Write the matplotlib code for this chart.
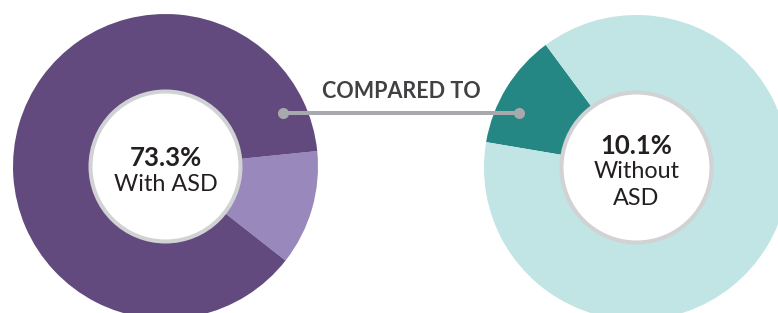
import matplotlib.pyplot as plt
from matplotlib.patches import Circle

# --- Data ---
left_labels = ["Other", "With ASD"]
left_values = [12.2, 87.8]
left_colors = ["#9888bc", "#624a7e"]
left_pct = "73.3%"
left_text = "With ASD"

right_labels = ["Other", "Without ASD"]
right_values = [12.2, 87.8]
right_colors = ["#248784", "#c1e4e4"]
right_pct = "10.1%"
right_text = "Without\nASD"

link_text = "COMPARED TO"

# --- Figure in pixel coordinates ---
W, H = 778, 313
fig = plt.figure(figsize=(W / 100, H / 100), dpi=100)
ax = fig.add_axes([0, 0, 1, 1])

FONT = "Lato"
RING = "#d1d2d4"
TEXT = "#231f20"


def donut(center, values, colors, start, pct, label):
    ax.pie(values, colors=colors, radius=152.5, center=center,
           startangle=start, counterclock=True,
           wedgeprops=dict(linewidth=0))
    ax.add_patch(Circle(center, 75, facecolor="white", edgecolor=RING,
                        linewidth=2.9, zorder=5))
    lines = label.split("\n")
    n = len(lines) + 1
    step = 26.5
    top = center[1] + step * (n - 1) / 2 - 4.5
    ax.text(center[0], top, pct, ha="center", va="center", fontsize=18.5,
            fontweight="bold", family=FONT, color=TEXT, zorder=6)
    for i, ln in enumerate(lines):
        ax.text(center[0], top - step * (i + 1), ln, ha="center", va="center",
                fontsize=16.8, family=FONT, color=TEXT, zorder=6)


left_c = (165.5, H - 166.5)
right_c = (636.5, H - 167.5)

donut(left_c, left_values, left_colors, -38.1, left_pct, left_text)
donut(right_c, right_values, right_colors, 126.5, right_pct, right_text)

# connector
ax.plot([283, 519], [H - 112.5, H - 112.5], color="#a7a9ac", linewidth=2.9,
        solid_capstyle="butt", zorder=7)
ax.plot([283, 519], [H - 112.5, H - 112.5], "o", color="#a7a9ac",
        markersize=8, markeredgewidth=0, zorder=8)
ax.text(401, H - 92, link_text, ha="center", va="center", fontsize=15.5,
        fontweight="bold", family=FONT, color="#414042", zorder=8)

ax.set_xlim(0, W)
ax.set_ylim(0, H)
ax.set_aspect("equal")
ax.axis("off")

fig.savefig("out.png", dpi=100, facecolor="white")
